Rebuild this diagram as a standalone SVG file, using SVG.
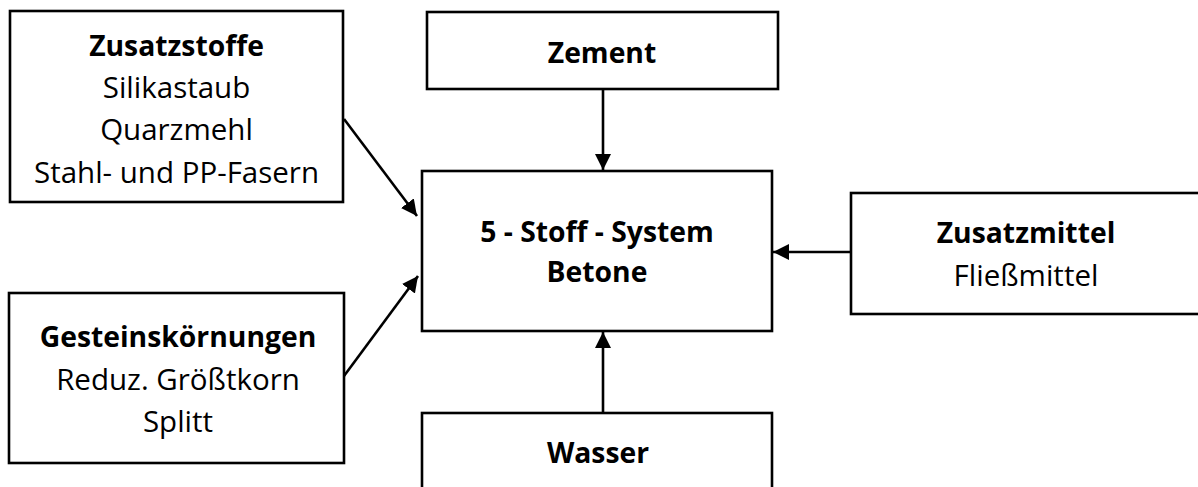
<svg xmlns="http://www.w3.org/2000/svg" width="1198" height="487" viewBox="0 0 1198 487">
<style>
.box{fill:#fff;stroke:#000;stroke-width:2.6}
.t{font-family:"Open Sans","Liberation Sans",sans-serif;font-size:29.5px;fill:#000;text-anchor:middle}
.b{font-weight:bold;font-size:28.3px}
.c{stroke:#000;stroke-width:2.6;fill:none;marker-end:url(#ah)}
</style>
<defs>
<marker id="ah" markerUnits="userSpaceOnUse" markerWidth="18" markerHeight="18" refX="16" refY="8" orient="auto">
<path d="M0,0 L16,8 L0,16 Z" fill="#000"/>
</marker>
</defs>
<rect width="1198" height="487" fill="#fff"/>
<g id="connectors">
<line class="c" x1="603" y1="89" x2="603" y2="170"/>
<line class="c" x1="603" y1="413" x2="603" y2="332"/>
<line class="c" x1="851" y1="252" x2="773" y2="252"/>
<line class="c" x1="344" y1="119" x2="417" y2="216"/>
<line class="c" x1="344" y1="376" x2="418" y2="276"/>
</g>
<g id="zusatzstoffe">
<rect class="box" x="10" y="11" width="333" height="191"/>
<text class="t b" x="176.5" y="56">Zusatzstoffe</text>
<text class="t" x="176.5" y="98">Silikastaub</text>
<text class="t" x="176.5" y="140">Quarzmehl</text>
<text class="t" x="176.5" y="183">Stahl- und PP-Fasern</text>
</g>
<g id="zement">
<rect class="box" x="427" y="12" width="351" height="77"/>
<text class="t b" x="602" y="63">Zement</text>
</g>
<g id="system">
<rect class="box" x="422" y="171" width="350" height="160"/>
<text class="t b" x="597" y="242">5 - Stoff - System</text>
<text class="t b" x="597" y="282">Betone</text>
</g>
<g id="zusatzmittel">
<rect class="box" x="851" y="193" width="360" height="121"/>
<text class="t b" x="1026" y="243">Zusatzmittel</text>
<text class="t" x="1026" y="286">Fließmittel</text>
</g>
<g id="gesteinskoernungen">
<rect class="box" x="9" y="293" width="335" height="170"/>
<text class="t b" x="178" y="347">Gesteinskörnungen</text>
<text class="t" x="178" y="390">Reduz. Größtkorn</text>
<text class="t" x="178" y="432">Splitt</text>
</g>
<g id="wasser">
<rect class="box" x="422" y="413" width="350" height="90"/>
<text class="t b" x="598" y="463">Wasser</text>
</g>
</svg>
